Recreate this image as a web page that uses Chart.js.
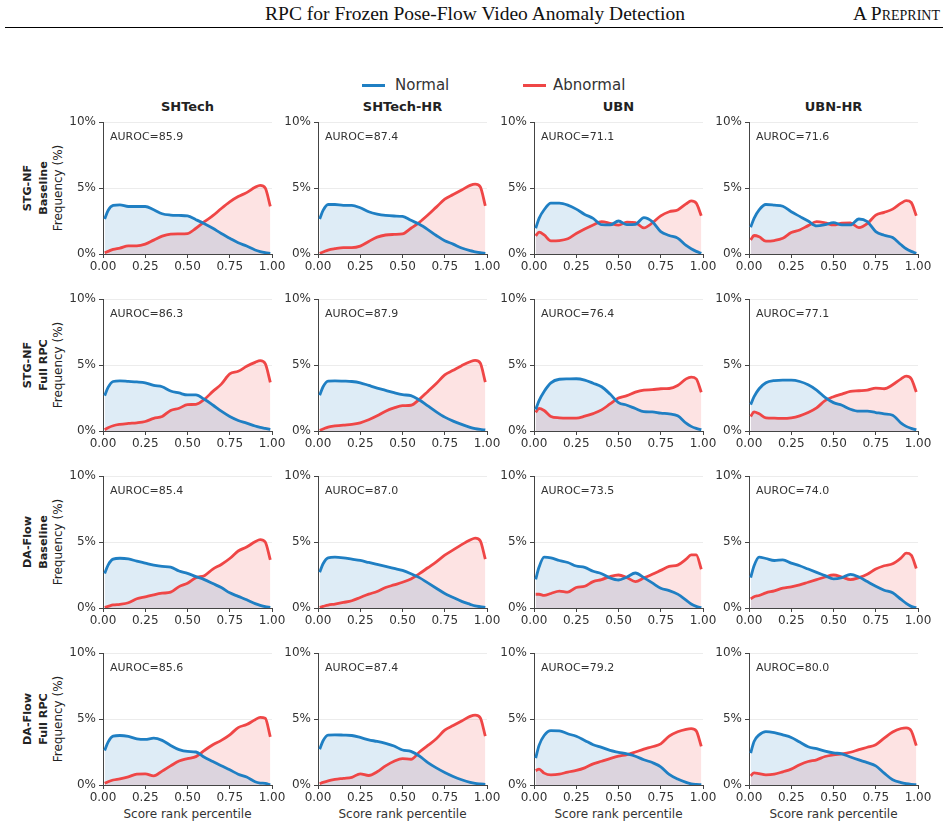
<!DOCTYPE html>
<html><head><meta charset="utf-8">
<script src="https://cdn.jsdelivr.net/npm/chart.js@4/dist/chart.umd.min.js"></script>
<style>
body{margin:0;width:948px;height:829px;background:#fff;position:relative;overflow:hidden;font-family:"DejaVu Sans",sans-serif;color:#222;}
.abs{position:absolute;white-space:nowrap;}
canvas{position:absolute;}
</style></head><body>
<div class="abs" style="left:0;width:950px;top:3px;text-align:center;font-family:'Liberation Serif',serif;font-size:19.5px;color:#111;">RPC for Frozen Pose-Flow Video Anomaly Detection</div>
<div class="abs" style="right:8px;top:3px;font-family:'Liberation Serif',serif;font-size:19.5px;font-variant:small-caps;color:#111;">A Preprint</div>
<div class="abs" style="left:5px;width:938px;top:27px;height:0;border-top:1px solid #000;"></div>
<div id="root"></div>
<script>
// ---- data ----
const xGrid = [0.01,0.03,0.06,0.10,0.15,0.20,0.25,0.30,0.35,0.40,0.45,0.50,0.55,0.60,0.65,0.70,0.75,0.80,0.85,0.90,0.93,0.96,0.99];
const datasetsNames = ['SHTech','SHTech-HR','UBN','UBN-HR'];
const methodNames = [['STG-NF','Baseline'],['STG-NF','Full RPC'],['DA-Flow','Baseline'],['DA-Flow','Full RPC']];
const aurocValues = [[85.9,87.4,71.1,71.6],[86.3,87.9,76.4,77.1],[85.4,87.0,73.5,74.0],[85.6,87.4,79.2,80.0]];
const xTicks = [0,0.25,0.5,0.75,1];
const yTicks = [0,5,10];

const stgBaselineNormal = [
 [2.65,3.3,3.68,3.72,3.6,3.6,3.6,3.35,3.05,2.95,2.92,2.88,2.6,2.3,1.95,1.55,1.2,0.85,0.6,0.3,0.18,0.1,0.05],
 [2.65,3.3,3.75,3.75,3.68,3.68,3.5,3.2,3.02,2.92,2.88,2.85,2.55,2.25,1.85,1.4,1.0,0.75,0.45,0.25,0.17,0.1,0.05],
 [1.95,2.7,3.35,3.85,3.85,3.7,3.4,3.0,2.7,2.22,2.2,2.5,2.22,2.25,2.75,2.45,1.7,1.4,1.2,0.65,0.4,0.2,0.05],
 [2.03,2.7,3.35,3.75,3.7,3.62,3.2,2.85,2.5,2.13,2.22,2.38,2.2,2.2,2.65,2.45,1.7,1.42,1.25,0.7,0.4,0.2,0.05]];
const stgBaselineAbnormal = [
 [0.1,0.2,0.35,0.45,0.62,0.62,0.75,1.05,1.35,1.5,1.52,1.55,1.95,2.45,2.9,3.45,3.95,4.35,4.65,5.05,5.2,5.0,3.6],
 [0.05,0.15,0.3,0.4,0.48,0.48,0.6,0.95,1.28,1.44,1.48,1.52,1.95,2.4,2.95,3.55,4.15,4.5,4.85,5.2,5.3,5.1,3.65],
 [1.37,1.65,1.45,1.0,1.02,1.15,1.55,1.9,2.2,2.45,2.32,2.18,2.42,2.38,1.98,2.35,2.89,3.2,3.34,3.8,4.02,3.85,2.89],
 [1.06,1.4,1.3,0.97,1.02,1.19,1.62,1.82,2.15,2.45,2.36,2.2,2.33,2.35,2.0,2.3,2.95,3.15,3.4,3.85,4.05,3.9,2.89]];
const stgFullNormal = [
 [2.68,3.3,3.75,3.8,3.76,3.72,3.65,3.45,3.35,3.03,2.88,2.73,2.73,2.4,1.97,1.5,1.1,0.8,0.6,0.38,0.28,0.2,0.12],
 [2.7,3.35,3.78,3.8,3.78,3.75,3.65,3.45,3.25,3.08,2.9,2.75,2.68,2.35,1.9,1.45,1.05,0.75,0.5,0.28,0.18,0.12,0.08],
 [1.62,2.3,3.0,3.65,3.92,3.95,3.96,3.86,3.62,3.35,2.8,2.15,1.95,1.7,1.47,1.45,1.35,1.3,1.15,0.6,0.35,0.2,0.1],
 [2.0,2.6,3.2,3.65,3.82,3.85,3.85,3.75,3.5,3.1,2.55,2.15,1.95,1.65,1.5,1.5,1.4,1.3,1.2,0.6,0.35,0.2,0.08]];
const stgFullAbnormal = [
 [0.1,0.25,0.4,0.5,0.57,0.62,0.72,0.96,1.1,1.56,1.72,2.0,2.02,2.4,3.0,3.55,4.32,4.52,4.9,5.2,5.33,5.1,3.69],
 [0.05,0.15,0.3,0.38,0.45,0.5,0.62,0.85,1.15,1.5,1.75,1.92,1.95,2.4,3.0,3.6,4.25,4.6,4.95,5.25,5.35,5.15,3.7],
 [1.41,1.72,1.55,1.1,1.0,0.98,0.98,1.12,1.32,1.6,2.05,2.5,2.68,2.95,3.1,3.13,3.2,3.22,3.45,3.95,4.08,3.95,2.93],
 [1.1,1.45,1.3,1.0,0.97,0.95,1.0,1.15,1.4,1.75,2.3,2.6,2.8,3.0,3.05,3.1,3.25,3.2,3.5,3.95,4.15,3.95,2.95]];
const daBaselineNormal = [
 [2.62,3.25,3.7,3.77,3.72,3.55,3.4,3.25,3.15,3.1,2.8,2.62,2.38,2.15,1.85,1.55,1.15,0.88,0.62,0.33,0.2,0.1,0.05],
 [2.7,3.35,3.8,3.85,3.8,3.7,3.6,3.45,3.3,3.15,3.0,2.85,2.6,2.3,1.9,1.5,1.1,0.8,0.5,0.28,0.16,0.1,0.05],
 [2.17,3.1,3.85,3.8,3.6,3.45,3.18,3.08,2.78,2.6,2.28,2.12,2.35,2.65,2.3,1.9,1.5,1.32,1.05,0.6,0.3,0.12,0.03],
 [2.3,3.2,3.85,3.75,3.6,3.65,3.4,3.2,2.95,2.7,2.45,2.2,2.3,2.55,2.35,2.0,1.65,1.35,1.15,0.65,0.35,0.12,0.03]];
const daBaselineAbnormal = [
 [0.05,0.12,0.23,0.28,0.4,0.7,0.85,1.0,1.12,1.2,1.62,1.88,2.3,2.45,2.95,3.3,3.75,4.32,4.62,5.02,5.18,5.0,3.64],
 [0.05,0.12,0.22,0.3,0.42,0.55,0.8,1.05,1.25,1.55,1.75,1.95,2.2,2.6,3.05,3.5,4.0,4.4,4.8,5.15,5.3,5.1,3.7],
 [1.04,1.04,0.95,1.1,1.28,1.2,1.55,1.65,2.0,2.15,2.38,2.5,2.3,2.0,2.28,2.55,2.85,3.15,3.25,3.7,4.02,4.02,2.93],
 [0.7,0.85,0.95,1.15,1.3,1.5,1.6,1.75,1.95,2.15,2.35,2.5,2.35,2.15,2.3,2.55,2.95,3.2,3.35,3.8,4.15,4.0,3.0]];
const daFullNormal = [
 [2.62,3.25,3.7,3.75,3.68,3.5,3.45,3.55,3.38,3.0,2.68,2.54,2.5,2.1,1.78,1.45,1.15,0.82,0.6,0.25,0.15,0.12,0.02],
 [2.7,3.35,3.78,3.8,3.78,3.75,3.6,3.42,3.3,3.15,2.95,2.65,2.55,2.2,1.7,1.3,0.95,0.65,0.4,0.2,0.12,0.08,0.05],
 [2.04,3.0,3.75,4.12,4.1,3.88,3.69,3.38,3.05,2.85,2.62,2.48,2.35,2.18,1.91,1.7,1.38,0.8,0.45,0.2,0.08,0.04,0.03],
 [2.42,3.3,3.8,4.05,3.97,3.8,3.6,3.25,2.9,2.75,2.57,2.43,2.36,2.12,1.9,1.7,1.45,0.9,0.4,0.18,0.1,0.05,0.03]];
const daFullAbnormal = [
 [0.13,0.25,0.38,0.47,0.62,0.82,0.85,0.69,1.05,1.45,1.82,2.0,2.15,2.62,3.05,3.38,3.8,4.35,4.58,4.95,5.12,5.05,3.64],
 [0.1,0.2,0.32,0.42,0.5,0.58,0.85,0.72,1.0,1.45,1.8,2.0,1.95,2.5,3.0,3.5,4.15,4.5,4.85,5.2,5.3,5.1,3.7],
 [1.09,1.2,0.9,0.77,0.82,0.98,1.1,1.3,1.6,1.8,2.0,2.18,2.3,2.5,2.72,2.9,3.12,3.7,4.03,4.22,4.27,4.1,2.93],
 [0.69,0.92,0.86,0.76,0.82,1.0,1.2,1.53,1.78,1.91,2.16,2.29,2.36,2.48,2.68,2.86,3.05,3.55,4.02,4.28,4.33,4.1,2.98]];

const normalRows = [stgBaselineNormal, stgFullNormal, daBaselineNormal, daFullNormal];
const abnormalRows = [stgBaselineAbnormal, stgFullAbnormal, daBaselineAbnormal, daFullAbnormal];

// ---- layout ----
const BLUE = '#1f7fc3', RED = '#ef4646';
const colLeft = [103, 318, 534, 749];
const rowTop = [122, 299, 476, 653];
const PW = 169, PH = 132;
const PADL = 60, PADT = 12, PADR = 22, PADB = 26;
const root = document.getElementById('root');

function addText(html, style) {
  const d = document.createElement('div');
  d.className = 'abs';
  d.innerHTML = html;
  d.setAttribute('style', style);
  root.appendChild(d);
  return d;
}

// legend
addText('', `left:362px;top:84px;width:23px;height:3px;background:${BLUE};`);
addText('Normal', 'left:395px;top:76px;font-size:15px;color:#333;line-height:18px;');
addText('', `left:523px;top:84px;width:23px;height:3px;background:${RED};`);
addText('Abnormal', 'left:553px;top:76px;font-size:15px;color:#333;line-height:18px;');

// column titles
datasetsNames.forEach((n, c) => {
  addText(n, `left:${colLeft[c] + PW/2 - 100}px;width:200px;text-align:center;top:98px;font-size:13px;font-weight:bold;color:#222;line-height:18px;`);
});

// row labels
methodNames.forEach((m, r) => {
  const cy = rowTop[r] + PH/2;
  addText(`<b style="font-size:11.2px">${m[0]}</b><br><b style="font-size:11.2px">${m[1]}</b><br>Frequency (%)`,
    `left:43px;top:${cy}px;transform:translate(-50%,-50%) rotate(-90deg);text-align:center;font-size:12px;line-height:14.5px;color:#222;`);
});

// x axis titles
for (let c = 0; c < 4; c++) {
  addText('Score rank percentile', `left:${colLeft[c] + PW/2 - 100}px;width:200px;text-align:center;top:806px;font-size:12px;color:#333;line-height:16px;`);
}

const aurocPlugin = {
  id: 'auroc',
  afterDraw(chart, args, opts) {
    const ctx = chart.ctx, a = chart.chartArea;
    ctx.save();
    ctx.font = '11px "DejaVu Sans"';
    ctx.fillStyle = '#333';
    ctx.textBaseline = 'middle';
    ctx.fillText(opts.text, a.left + 7, a.top + 15);
    ctx.restore();
  }
};

function toPts(arr) { return xGrid.map((x, i) => ({x: x, y: arr[i]})); }

for (let r = 0; r < 4; r++) {
  for (let c = 0; c < 4; c++) {
    const cv = document.createElement('canvas');
    const W = PADL + PW + PADR, H = PADT + PH + PADB;
    cv.width = W; cv.height = H;
    cv.style.left = (colLeft[c] - PADL) + 'px';
    cv.style.top = (rowTop[r] - PADT) + 'px';
    cv.style.width = W + 'px'; cv.style.height = H + 'px';
    root.appendChild(cv);
    new Chart(cv, {
      type: 'line',
      data: {
        datasets: [
          {label: 'Normal', data: toPts(normalRows[r][c]), borderColor: BLUE, backgroundColor: 'rgba(31,127,195,0.15)', fill: 'origin', borderWidth: 2.8, pointRadius: 0, cubicInterpolationMode: 'monotone'},
          {label: 'Abnormal', data: toPts(abnormalRows[r][c]), borderColor: RED, backgroundColor: 'rgba(239,70,70,0.15)', fill: 'origin', borderWidth: 2.8, pointRadius: 0, cubicInterpolationMode: 'monotone'}
        ]
      },
      plugins: [aurocPlugin],
      options: {
        responsive: false, animation: false, devicePixelRatio: 1,
        layout: {padding: {left: 0, top: PADT, right: PADR, bottom: 0}},
        plugins: {legend: {display: false}, tooltip: {enabled: false}, filler: {drawTime: 'beforeDatasetsDraw'},
                  auroc: {text: 'AUROC=' + aurocValues[r][c].toFixed(1)}},
        scales: {
          x: {type: 'linear', min: 0, max: 1,
              afterFit: s => { s.height = PADB; },
              afterBuildTicks: s => { s.ticks = xTicks.map(v => ({value: v})); },
              ticks: {callback: v => Number(v).toFixed(2), font: {family: 'DejaVu Sans', size: 12}, color: '#333', padding: 2, maxRotation: 0, autoSkip: false},
              grid: {drawOnChartArea: false, drawTicks: true, tickLength: 4, tickColor: '#444'},
              border: {display: true, color: '#444', width: 1}},
          y: {type: 'linear', min: 0, max: 10,
              afterFit: s => { s.width = PADL; },
              afterBuildTicks: s => { s.ticks = yTicks.map(v => ({value: v})); },
              ticks: {callback: v => v + '%', font: {family: 'DejaVu Sans', size: 12}, color: '#333', padding: 3},
              grid: {color: '#ececec', lineWidth: 1, tickColor: '#444', tickLength: 4},
              border: {display: true, color: '#444', width: 1}}
        }
      }
    });
  }
}
</script>
</body></html>
